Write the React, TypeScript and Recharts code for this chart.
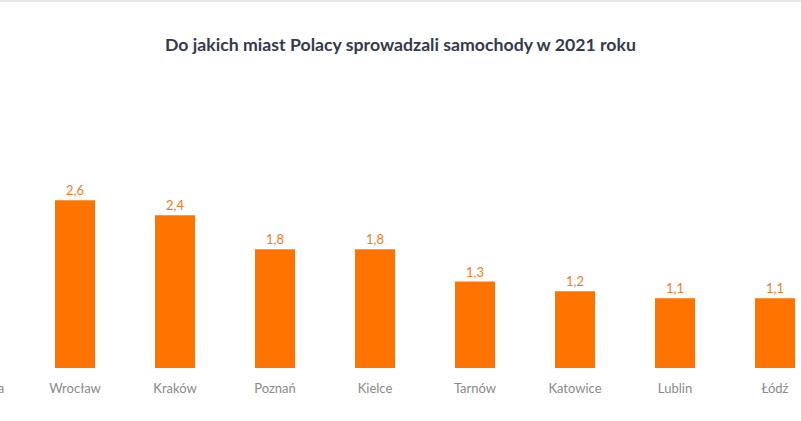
import { BarChart, Bar, XAxis, YAxis, LabelList } from 'recharts';

const cities = ['Warszawa', 'Wrocław', 'Kraków', 'Poznań', 'Kielce', 'Tarnów', 'Katowice', 'Lublin', 'Łódź'];
const values = [3.9, 2.6, 2.37, 1.84, 1.84, 1.34, 1.19, 1.08, 1.08];

const data = cities.map((city, i) => ({ city, value: values[i] }));

const fmt = (v: any) => Number(v).toFixed(1).replace('.', ',');

export default function App() {
  return (
    <div style={{ position: 'absolute', left: 0, top: 0, width: 801, height: 421, overflow: 'hidden', background: '#fff', fontFamily: 'Lato, sans-serif' }}>
      <div style={{ position: 'absolute', left: 0, top: 0, width: 801, height: 2, background: '#e6e6e6' }} />
      <div style={{ position: 'absolute', left: 0, top: 34, width: 801, textAlign: 'center', fontSize: 17.7, fontWeight: 700, color: '#343a4a' }}>
        Do jakich miast Polacy sprowadzali samochody w 2021 roku
      </div>
      <div style={{ position: 'absolute', left: -75, top: 0 }}>
        <BarChart width={900} height={421} data={data} margin={{ top: 110, right: 0, bottom: 23, left: 0 }}>
          <YAxis hide domain={[0, 4]} />
          <XAxis
            dataKey="city"
            axisLine={false}
            tickLine={false}
            tickMargin={10}
            height={30}
            interval={0}
            tick={{ fontSize: 13, fill: '#8a8a8a', fontFamily: 'Lato, sans-serif' }}
          />
          <Bar dataKey="value" fill="#ff7300" barSize={40} isAnimationActive={false}>
            <LabelList dataKey="value" position="top" offset={5} formatter={fmt} style={{ fontSize: 13, fill: '#f07c22', fontFamily: 'Lato, sans-serif' }} />
          </Bar>
        </BarChart>
      </div>
    </div>
  );
}
